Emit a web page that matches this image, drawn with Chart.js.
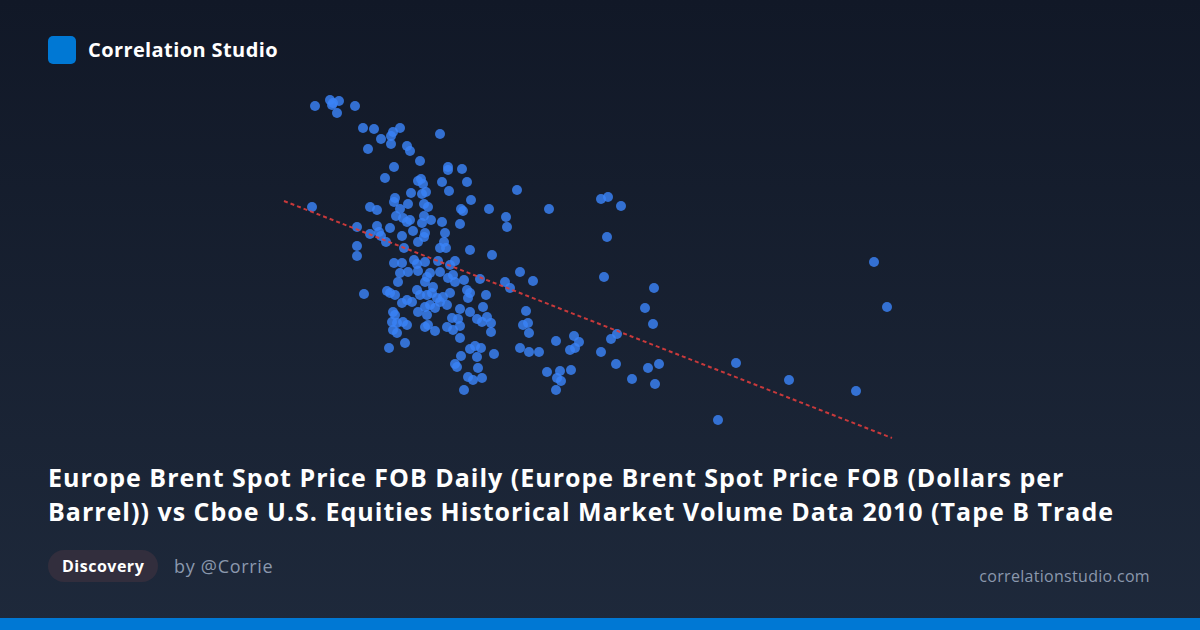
<!DOCTYPE html>
<html>
<head>
<meta charset="utf-8">
<script src="https://cdn.jsdelivr.net/npm/chart.js@4.4.1/dist/chart.umd.min.js"></script>
<style>
    html, body { margin: 0; padding: 0; }
    body {
        width: 1200px;
        height: 630px;
        position: relative;
        overflow: hidden;
        background: linear-gradient(180deg, #111827 0%, #1e293b 100%);
        font-family: "Open Sans", "Noto Sans", sans-serif;
    }
    .logo {
        position: absolute; left: 48px; top: 36px;
        width: 28px; height: 28px; border-radius: 5px;
        background: #0078d4;
    }
    .brand {
        position: absolute; left: 88px; top: 36px; height: 28px; line-height: 28px;
        color: #fff; font-weight: 700; font-size: 20px; letter-spacing: 0.4px;
    }
    #chartWrap { position: absolute; left: 260px; top: 80px; width: 660px; height: 380px; }
    .title {
        position: absolute; left: 48px; top: 460px; width: 1120px;
        color: #fff; font-weight: 700; font-size: 25px; line-height: 34px;
        letter-spacing: 1px; white-space: nowrap;
    }
    .badge {
        position: absolute; left: 48px; top: 550px; height: 32px; line-height: 32px;
        padding: 0 14px; border-radius: 16px;
        background: #322e3d; color: #fff; font-weight: 700; font-size: 16px; letter-spacing: 0.5px;
    }
    .author {
        position: absolute; left: 174px; top: 550px; height: 32px; line-height: 32px;
        color: #8b98ad; font-size: 18px; letter-spacing: 0.7px;
    }
    .site {
        position: absolute; right: 50px; top: 562px; height: 28px; line-height: 28px;
        color: #8b98ad; font-size: 16px; letter-spacing: 0.3px;
    }
    .bar { position: absolute; left: 0; bottom: 0; width: 1200px; height: 12px; background: #0078d4; }
</style>
</head>
<body>
<div class="logo"></div>
<div class="brand">Correlation Studio</div>
<div id="chartWrap"><canvas id="scatter" width="660" height="380"></canvas></div>
<div class="title">Europe Brent Spot Price FOB Daily (Europe Brent Spot Price FOB (Dollars per<br>Barrel)) vs Cboe U.S. Equities Historical Market Volume Data 2010 (Tape B Trade</div>
<div class="badge">Discovery</div>
<div class="author">by @Corrie</div>
<div class="site">correlationstudio.com</div>
<div class="bar"></div>
<script>
// Scatter values (arbitrary units, no axes shown)
const xValues = [
    3.5, 5.0, 5.3, 5.9, 5.2, 7.5, 5.7, 8.3, 9.4, 10.1, 11.1, 11.3, 12.0, 11.1, 8.8, 16.0, 12.7, 13.0, 14.0, 11.4,
    10.5, 16.8, 16.8, 18.2, 16.2, 18.7, 13.8, 14.1, 14.3, 13.1, 14.2, 14.6, 16.9, 19.1, 3.2, 9.0, 9.7, 11.5, 11.4, 12.8,
    14.4, 14.8, 18.1, 18.3, 12.0, 11.6, 12.3, 12.7, 13.0, 14.4, 14.2, 15.1, 16.2, 18.0, 7.7, 9.7, 9.9, 9.0, 11.0, 12.2,
    13.3, 14.5, 14.4, 16.5, 10.6, 13.8, 7.7, 12.4, 16.4, 16.6, 19.0, 10.1, 7.7, 8.4, 10.7, 23.7, 20.9, 26.9, 22.6, 22.7,
    32.1, 32.8, 34.1, 32.7, 32.4, 24.0, 25.3, 20.0, 22.5, 23.0, 20.6, 21.2, 16.0, 11.4, 12.2, 13.4, 13.7, 14.5, 15.8, 17.0,
    17.5, 12.0, 11.8, 12.8, 13.8, 14.7, 15.0, 16.0, 14.5, 15.3, 16.8, 17.3, 17.5, 18.4, 11.0, 11.5, 13.7, 14.0, 14.7, 15.2,
    15.7, 16.0, 16.3, 14.5, 15.0, 15.5, 16.7, 17.0, 18.7, 19.0, 18.8, 12.2, 12.7, 13.2, 13.8, 11.3, 11.5, 14.7, 18.0, 19.0,
    20.3, 11.2, 11.7, 12.3, 12.7, 11.3, 11.7, 14.5, 14.8, 15.5, 17.2, 17.8, 16.7, 17.3, 18.0, 19.7, 20.2, 20.7, 21.1, 21.1,
    18.0, 10.9, 12.5, 19.0, 19.5, 20.1, 18.1, 19.7, 21.4, 24.6, 24.3, 24.8, 24.9, 27.6, 29.4, 29.9, 29.0, 29.5, 32.1, 33.1,
    33.7, 33.6, 35.2, 24.0, 24.9, 25.9, 26.7, 28.0, 29.1, 27.7, 28.1, 27.6, 18.4, 18.8, 19.3, 20.2, 19.8, 17.5, 17.7, 37.4,
    36.5, 37.3, 36.8, 37.9, 37.5, 43.8, 45.6, 50.9, 57.6, 59.4, 60.7
];
const yValues = [
    34.4, 35.0, 34.7, 34.9, 34.5, 34.4, 33.7, 32.2, 32.1, 31.1, 31.4, 31.8, 32.2, 30.6, 30.1, 31.6, 30.4, 29.9, 28.9, 28.3,
    27.2, 28.3, 28.0, 28.1, 26.8, 26.8, 26.9, 27.1, 26.6, 25.7, 25.6, 25.8, 25.9, 25.0, 24.3, 24.3, 24.0, 25.2, 24.8, 24.6,
    24.6, 24.3, 24.1, 23.9, 24.1, 23.4, 23.2, 22.8, 23.0, 23.4, 22.7, 23.0, 22.8, 22.6, 22.3, 22.4, 21.8, 21.6, 22.2, 21.4,
    21.9, 21.7, 21.3, 21.7, 20.8, 20.8, 20.4, 20.2, 20.8, 20.2, 20.0, 21.4, 19.4, 15.6, 15.9, 26.0, 24.1, 24.1, 23.3, 22.3,
    25.1, 25.3, 24.4, 21.3, 17.3, 17.8, 16.9, 17.1, 16.8, 16.2, 15.5, 19.5, 20.2, 18.7, 18.7, 19.0, 18.6, 18.8, 18.9, 18.5,
    18.9, 17.7, 16.8, 17.8, 17.9, 17.3, 17.7, 17.8, 16.8, 16.3, 17.2, 17.5, 16.8, 17.0, 15.7, 15.5, 16.0, 15.5, 15.5, 15.7,
    15.2, 14.8, 15.3, 14.3, 14.5, 14.2, 14.5, 15.7, 16.0, 15.7, 15.2, 14.7, 15.0, 14.8, 13.8, 13.8, 13.5, 13.5, 14.1, 13.8,
    14.3, 12.8, 12.7, 12.8, 12.5, 12.0, 11.7, 12.3, 12.5, 11.9, 13.2, 13.1, 12.3, 12.0, 12.4, 13.1, 12.8, 13.3, 12.7, 11.8,
    11.2, 10.2, 10.7, 10.1, 10.4, 10.2, 9.4, 9.3, 9.6, 13.9, 12.5, 12.7, 11.7, 10.9, 11.4, 10.8, 10.0, 10.2, 9.8, 11.1,
    11.6, 8.6, 7.1, 10.2, 9.8, 9.8, 7.8, 7.9, 8.0, 7.2, 6.9, 6.0, 6.0, 7.3, 7.0, 7.2, 8.2, 8.6, 8.3, 16.2,
    14.2, 12.6, 8.2, 8.6, 6.6, 3.0, 8.7, 7.0, 5.9, 18.8, 14.3
];
// Trend line ends
const trendX = [0.4, 61.2];
const trendY = [24.9, 1.2];

const points = xValues.map((x, i) => ({ x: x, y: yValues[i] }));
const trend = trendX.map((x, i) => ({ x: x, y: trendY[i] }));

const ctx = document.getElementById('scatter').getContext('2d');
const scatterChart = new Chart(ctx, {
    type: 'scatter',
    data: {
        datasets: [{
            type: 'line',
            data: trend,
            borderColor: 'rgba(220, 60, 60, 0.9)',
            borderWidth: 2,
            borderDash: [4, 3],
            pointRadius: 0,
            fill: false,
            order: 0
        }, {
            data: points,
            backgroundColor: 'rgba(59, 130, 246, 0.82)',
            borderWidth: 0,
            pointRadius: 5,
            pointHoverRadius: 5,
            clip: false,
            order: 1
        }]
    },
    options: {
        responsive: false,
        animation: false,
        layout: { padding: { left: 20, right: 20, top: 10, bottom: 10 } },
        plugins: { legend: { display: false }, tooltip: { enabled: false } },
        scales: {
            x: { type: 'linear', min: 0, max: 62, display: false },
            y: { type: 'linear', min: 0, max: 36, display: false }
        }
    }
});
</script>
</body>
</html>
